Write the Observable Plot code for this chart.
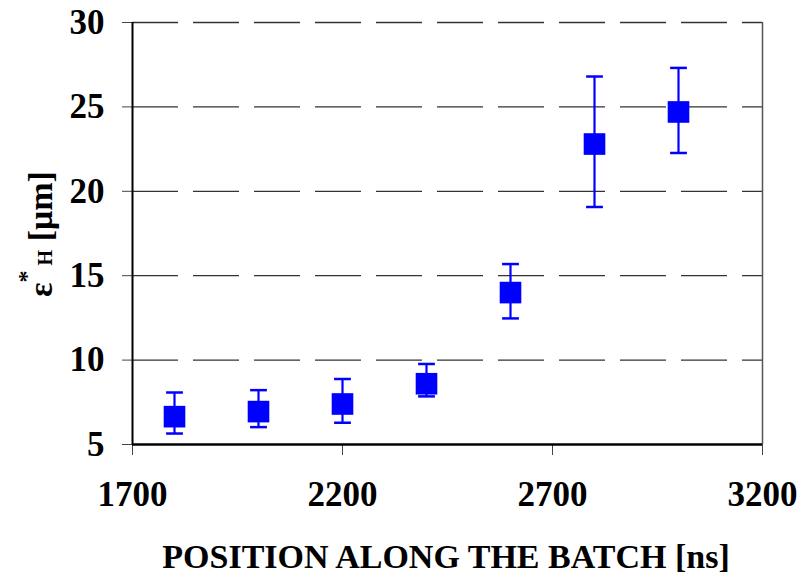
<!DOCTYPE html>
<html>
<head>
<meta charset="utf-8">
<script src="https://cdn.jsdelivr.net/npm/d3@7"></script>
<script src="https://cdn.jsdelivr.net/npm/@observablehq/plot@0.6"></script>
<style>
  html, body { margin: 0; padding: 0; background: #fff; }
  svg { display: block; }
</style>
</head>
<body>
<div id="chart"></div>
<script>
const positions = [1800, 2000, 2200, 2400, 2600, 2800, 3000];
const emittance = [6.65, 6.95, 7.4, 8.6, 14.0, 22.8, 24.7];
const errLow = [5.65, 6.03, 6.29, 7.85, 12.47, 19.07, 22.27];
const errHigh = [8.08, 8.22, 8.88, 9.77, 15.69, 26.8, 27.31];
const xTicks = [1700, 2200, 2700, 3200];
const yTicks = [5, 10, 15, 20, 25, 30];
const gridLines = [10, 15, 20, 25, 30];
const xLabel = "POSITION ALONG THE BATCH [ns]";

const data = positions.map((x, i) => ({x, y: emittance[i], lo: errLow[i], hi: errHigh[i]}));
const capHalf = 20;
const blue = "#0000ff";
const font = "'Liberation Serif', 'Times New Roman', serif";

const chart = Plot.plot({
  width: 798,
  height: 578,
  marginLeft: 132,
  marginRight: 36,
  marginTop: 22,
  marginBottom: 134,
  style: {fontFamily: font, fontWeight: "bold", fontSize: "34px", color: "#000", background: "#fff"},
  x: {domain: [1700, 3200]},
  y: {domain: [5, 30]},
  marks: [
    Plot.ruleY(gridLines, {stroke: "#333", strokeWidth: 1.3, strokeDasharray: "46,15"}),
    Plot.ruleX([3200], {stroke: "#555", strokeWidth: 1.5}),
    Plot.axisY({ticks: yTicks, tickSize: 10, tickPadding: 18, tickFormat: d => String(d), label: null, fontSize: 35, stroke: "#444"}),
    Plot.axisX({ticks: xTicks, tickSize: 11, tickPadding: 26, tickFormat: d => String(d), label: null, fontSize: 35, stroke: "#444"}),
    Plot.ruleX([1700], {stroke: "#000", strokeWidth: 2}),
    Plot.ruleY([5], {stroke: "#000", strokeWidth: 2.5}),
    Plot.ruleX(data, {x: "x", y1: "lo", y2: "hi", stroke: blue, strokeWidth: 2.2}),
    Plot.link(data, {x1: d => d.x - capHalf, x2: d => d.x + capHalf, y1: "lo", y2: "lo", stroke: blue, strokeWidth: 2.5}),
    Plot.link(data, {x1: d => d.x - capHalf, x2: d => d.x + capHalf, y1: "hi", y2: "hi", stroke: blue, strokeWidth: 2.5}),
    Plot.dot(data, {x: "x", y: "y", symbol: "square", r: 12.2, fill: blue, stroke: "none"})
  ]
});

const svg = d3.select(chart);
svg.append("text")
  .attr("x", 446).attr("y", 568)
  .attr("text-anchor", "middle")
  .style("font-family", font).style("font-weight", "bold").style("font-size", "34px")
  .text(xLabel);

const yl = svg.append("text")
  .attr("transform", "translate(52,234) rotate(-90)")
  .attr("text-anchor", "middle")
  .style("font-family", font).style("font-weight", "bold").style("font-size", "34px");
yl.append("tspan").text("ε");
yl.append("tspan").attr("dy", -18).style("font-size", "24px").text("*");
yl.append("tspan").attr("dy", 18).style("font-size", "20px").text(" H");
yl.append("tspan").text(" [μm]");

document.getElementById("chart").appendChild(chart);
</script>
</body>
</html>
